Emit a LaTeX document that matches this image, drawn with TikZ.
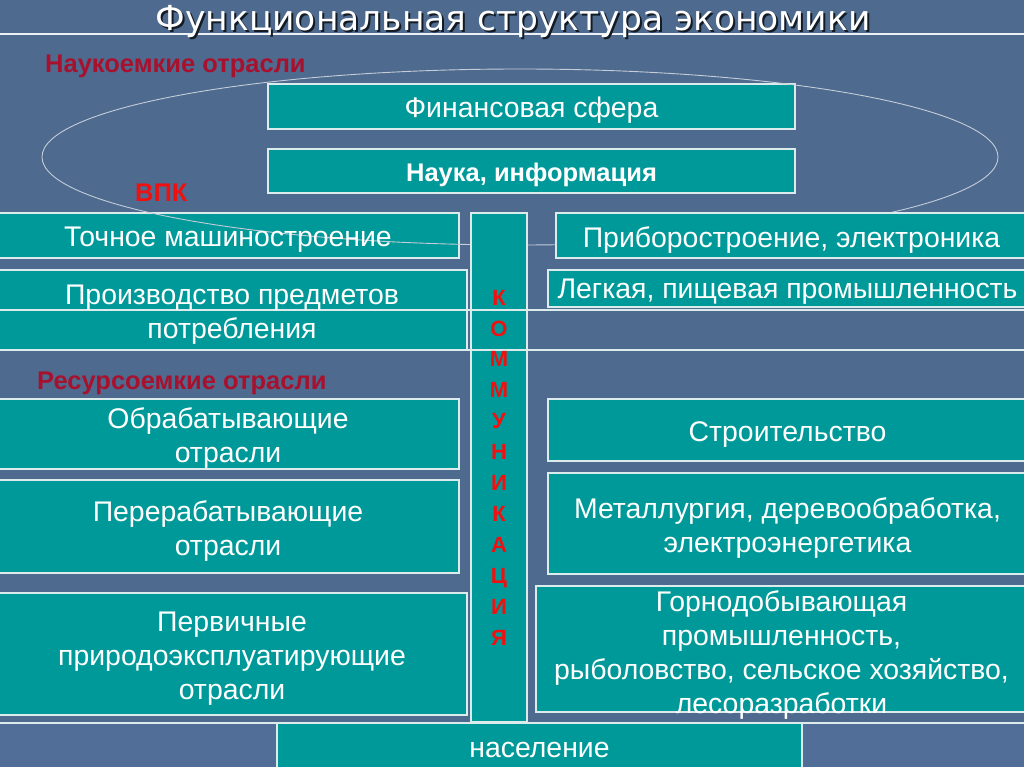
\documentclass[tikz,border=0pt]{standalone}
\usepackage{fontspec}
\setmainfont{Liberation Sans}
\newfontfamily\titlefont{DejaVu Sans}
\definecolor{bgblue}{HTML}{4E6A8F}
\definecolor{stripblue}{HTML}{506E98}
\definecolor{tealbox}{HTML}{009999}
\definecolor{edgecol}{HTML}{DCEBEB}
\definecolor{darkred}{HTML}{A8112E}
\definecolor{brightred}{HTML}{F01010}
\definecolor{ellcol}{HTML}{C4CDD8}
\begin{document}
\begin{tikzpicture}[x=1pt,y=-1pt,
  box/.style={draw=edgecol, line width=1.4pt, fill=tealbox, inner sep=0pt, outer sep=0pt},
  boxtext/.style={text=white, align=center, inner sep=0pt, font=\fontsize{28.4}{34}\selectfont},
  redlabel/.style={font=\bfseries\fontsize{25.5}{28}\selectfont, text=darkred, inner sep=0pt, anchor=base west},
  sepline/.style={draw=edgecol, line width=1.2pt}]
\useasboundingbox (0,0) rectangle (1024,767);
\clip (0,0) rectangle (1024,767);
% background
\fill[bgblue] (0,0) rectangle (1024,767);
% bottom strip
\node[draw=edgecol, line width=1.2pt, fill=stripblue, minimum width=1030pt, minimum height=48pt, inner sep=0pt] (strip) at (512,747) {};
% title line
\draw[draw=white!90!bgblue, line width=1.4pt] (0,34) -- (1024,34);
% top boxes
\node[box, minimum width=527pt, minimum height=45pt] (fin) at (531.5,106.5) {};
\node[box, minimum width=527pt, minimum height=44pt] (nauka) at (531.5,171) {};
% left column boxes
\node[box, minimum width=462pt, minimum height=45pt] (tochn) at (228,235.5) {};
\node[box, minimum width=470pt, minimum height=80pt] (proizv) at (232,310) {};
\node[box, minimum width=462pt, minimum height=70pt] (obr) at (228,434) {};
\node[box, minimum width=462pt, minimum height=93pt] (perer) at (228,526.5) {};
\node[box, minimum width=470pt, minimum height=122pt] (perv) at (232,654) {};
% right column boxes
\node[box, minimum width=479pt, minimum height=37pt] (legk) at (787.5,288.5) {};
\node[box, minimum width=479pt, minimum height=62pt] (stroit) at (787.5,430) {};
\node[box, minimum width=479pt, minimum height=101pt] (metal) at (787.5,523.5) {};
\node[box, minimum width=491pt, minimum height=126pt] (gorn) at (781.5,649) {};
% ellipse of science-intensive branches
\draw[ellcol, line width=0.9pt] (520,157) ellipse [x radius=478pt, y radius=88pt];
% communication column and boxes over the ellipse
\node[box, minimum width=56pt, minimum height=509pt] (komm) at (499,467.5) {};
\node[box, minimum width=471pt, minimum height=45pt] (prib) at (791.5,235.5) {};
\node[box, minimum width=525pt, minimum height=47pt] (nasel) at (539.5,746.5) {};
% full-width separator lines
\coordinate (l1a) at (0,310); \coordinate (l1b) at (1024,310);
\coordinate (l2a) at (0,350); \coordinate (l2b) at (1024,350);
\draw[sepline] (l1a) -- (l1b);
\draw[sepline] (l2a) -- (l2b);
% box texts
\node[boxtext] (fin-t) at ([yshift=-4pt]fin.center) {Финансовая сфера};
\node[boxtext, font=\bfseries\fontsize{25.5}{30}\selectfont] (nauka-t) at ([yshift=-4pt]nauka.center) {Наука, информация};
\node[boxtext] (tochn-t) at ([yshift=-4.5pt]tochn.center) {Точное машиностроение};
\node[boxtext] (proizv-t) at ([yshift=-4.5pt]proizv.center) {Производство предметов\\потребления};
\node[boxtext] (obr-t) at ([yshift=-4.5pt]obr.center) {Обрабатывающие\\ отрасли};
\node[boxtext] (perer-t) at ([yshift=-4.5pt]perer.center) {Перерабатывающие\\отрасли};
\node[boxtext] (perv-t) at ([yshift=-4.5pt]perv.center) {Первичные\\природоэксплуатирующие\\отрасли};
\node[boxtext] (legk-t) at ([yshift=-3pt]legk.center) {Легкая, пищевая промышленность};
\node[boxtext] (stroit-t) at ([yshift=-5pt]stroit.center) {Строительство};
\node[boxtext] (metal-t) at ([yshift=-4.5pt]metal.center) {Металлургия, деревообработка,\\электроэнергетика};
\node[boxtext] (gorn-t) at ([yshift=-6pt]gorn.center) {Горнодобывающая\\промышленность,\\рыболовство, сельское хозяйство,\\лесоразработки};
\node[boxtext] (prib-t) at ([yshift=-4.5pt]prib.center) {Приборостроение, электроника};
\node[boxtext] (nasel-t) at ([yshift=-3pt]nasel.center) {население};
\node[boxtext, text=brightred, font=\bfseries\fontsize{22}{30.9}\selectfont] (komm-t) at ([yshift=0pt]komm.center) {К\\О\\М\\М\\У\\Н\\И\\К\\А\\Ц\\И\\Я};
% labels
\node[redlabel] (naukoem) at (45,73) {Наукоемкие отрасли};
\node[redlabel, text=brightred] (vpk) at (135,202) {ВПК};
\node[redlabel] (resurs) at (37,389) {Ресурсоемкие отрасли};
% title with shadow
\node[anchor=base, inner sep=0pt, text=black!75!bgblue, font=\titlefont\fontsize{34.5}{40}\selectfont] (titlesh) at (515,33) {Функциональная структура экономики};
\node[anchor=base, inner sep=0pt, text=white, font=\titlefont\fontsize{34.5}{40}\selectfont] (title) at (513,31) {Функциональная структура экономики};
\end{tikzpicture}
\end{document}
